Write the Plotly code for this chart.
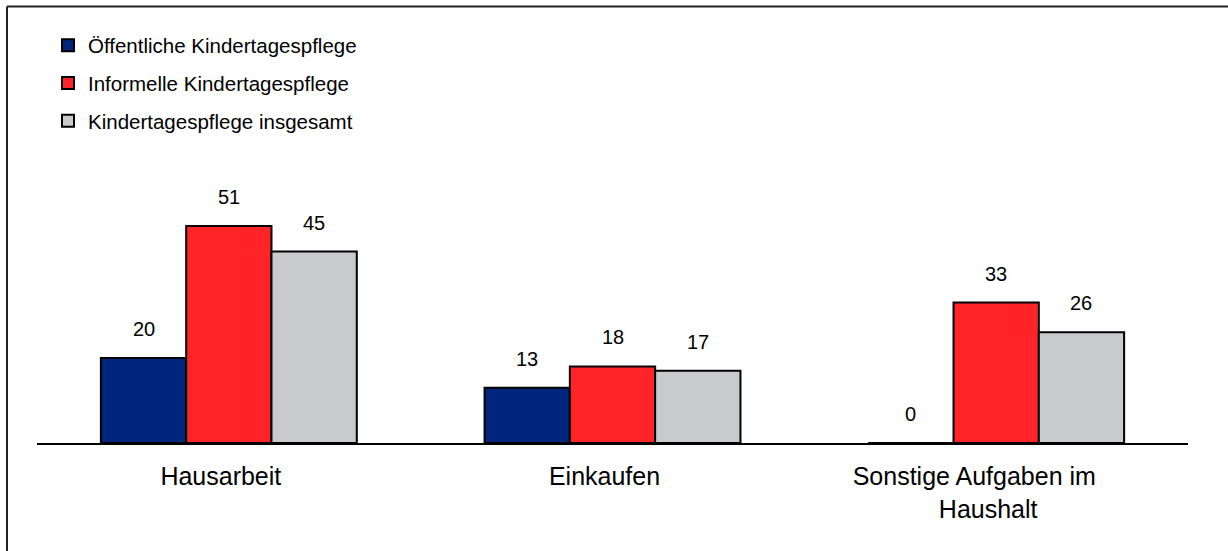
import plotly.graph_objects as go

categories = ["Hausarbeit", "Einkaufen", "Sonstige Aufgaben im\u00a0\u00a0\u00a0\u00a0<br>Haushalt"]
series_names = ["Öffentliche Kindertagespflege", "Informelle Kindertagespflege", "Kindertagespflege insgesamt"]
oeffentliche = [20, 13, 0]
informelle = [51, 18, 33]
insgesamt = [45, 17, 26]
series_values = [oeffentliche, informelle, insgesamt]
colors = ["#00257D", "#FF2428", "#C8CBCE"]

W, H = 1228, 551
ml, mr, mt, mb = 37, 40, 100, 108
plot_w = W - ml - mr
plot_h = H - mt - mb
px_per_unit = 217 / 51.0
ymax = plot_h / px_per_unit

bargap = 0.333
band = plot_w / len(categories)
bar_w = band * (1 - bargap) / 3

fig = go.Figure()
for i, (name, vals, col) in enumerate(zip(series_names, series_values, colors)):
    fig.add_trace(go.Bar(
        x=categories, y=vals, name=name,
        marker=dict(color=col, line=dict(color="black", width=2)),
        legendgroup=str(i),
        hoverinfo="skip",
    ))

annotations = []
for i, vals in enumerate(series_values):
    for c, v in zip(categories, vals):
        annotations.append(dict(
            x=c, y=v, xref="x", yref="y", text=str(v), showarrow=False,
            xshift=(i - 1) * bar_w, yshift=29, yanchor="middle",
            font=dict(family="Liberation Sans, Arial", size=20, color="black"),
        ))

def px_x(p):
    return (p - ml) / plot_w

def px_y(p):
    return (H - mb - p) / plot_h

shapes = [
    dict(type="line", xref="paper", yref="paper", x0=px_x(7), x1=px_x(1240), y0=px_y(6.5), y1=px_y(6.5),
         line=dict(color="#222222", width=2)),
    dict(type="line", xref="paper", yref="paper", x0=px_x(7), x1=px_x(7), y0=px_y(6.5), y1=px_y(560),
         line=dict(color="#222222", width=2)),
]

fig.update_layout(
    width=W, height=H,
    margin=dict(l=ml, r=mr, t=mt, b=mb, pad=0),
    paper_bgcolor="white", plot_bgcolor="white",
    barmode="group", bargap=bargap, bargroupgap=0,
    font=dict(family="Liberation Sans, Arial", size=20, color="black"),
    showlegend=True,
    legend=dict(x=px_x(48), y=px_y(25.5), xanchor="left", yanchor="top",
                traceorder="grouped", tracegroupgap=8,
                font=dict(size=20.5), bgcolor="rgba(0,0,0,0)"),
    xaxis=dict(showline=True, linecolor="black", linewidth=2, ticks="",
               showgrid=False, zeroline=False, ticklabelstandoff=10,
               ticklabelshift=-8,
               tickfont=dict(size=25), layer="above traces"),
    yaxis=dict(range=[0, ymax], visible=False, showgrid=False, zeroline=False),
    annotations=annotations,
    shapes=shapes,
)

fig.write_html("out.html", config={"displayModeBar": False},
               post_script="document.body.style.margin='0';")
